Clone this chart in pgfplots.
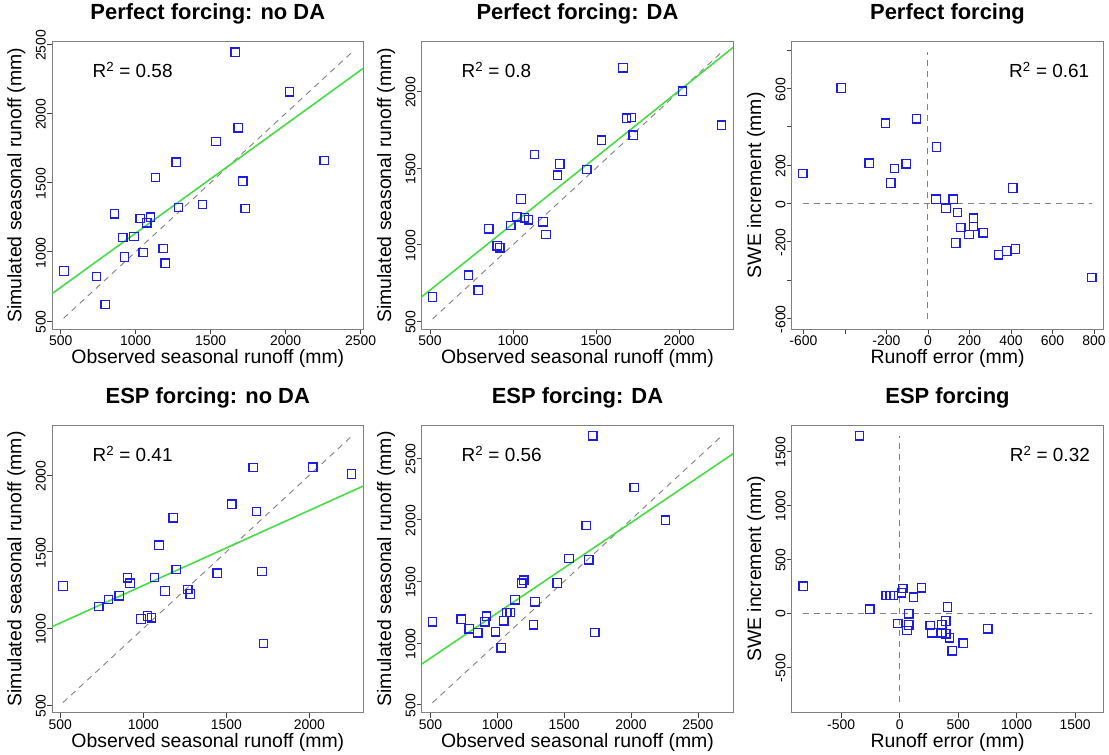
\documentclass[border=0pt]{standalone}
\usepackage{fontspec}
\setmainfont{Liberation Sans}
\usepackage{pgfplots}
\pgfplotsset{compat=1.18}
\definecolor{ptblue}{RGB}{30,30,225}
\definecolor{rgreen}{RGB}{70,220,70}
\tikzset{rtwo/.style={font=\fontsize{19}{19}\selectfont}}
\pgfplotsset{
  panel/.style={
    scale only axis, width=311.6bp, height=287.5bp,
    axis line style={draw=gray, line width=0.8bp},
    tick align=outside, tick pos=left,
    major tick length=5bp,
    tick style={black!75, line width=0.6bp},
    /pgf/number format/assume math mode=true,
    /pgf/number format/1000 sep={},
    scaled ticks=false,
    ticklabel style={font=\fontsize{14}{14}\selectfont, inner sep=1bp},
    xticklabel style={yshift=-0.5bp},
    yticklabel style={rotate=90, anchor=south, xshift=-1bp},
    xlabel style={font=\fontsize{19.5}{19.5}\selectfont, inner sep=0pt, at={(axis description cs:0.5,0)}, anchor=base, yshift=-35bp},
    ylabel style={font=\fontsize{19.5}{19.5}\selectfont, inner sep=0pt, at={(axis description cs:-0.098,0.5)}, anchor=base},
    title style={font=\bfseries\fontsize{22}{22}\selectfont, at={(axis description cs:0.5,1)}, anchor=base, yshift=16bp},
    enlargelimits=false,
  },
  pts/.style={only marks, mark=square, mark size=4.2bp, draw=ptblue, color=ptblue, mark options={draw=ptblue, fill=none, line width=1.25bp, solid}},
  fit/.style={rgreen, line width=1.6bp},
  oneone/.style={gray, line width=0.9bp, dash pattern=on 6bp off 5bp},
}
\begin{document}
\begin{tikzpicture}
\useasboundingbox (0,0) rectangle (1109bp,755bp);
% ---------- Panel 1 ----------
\begin{axis}[panel, at={(52bp,426bp)}, anchor=south west,
  title={Perfect forcing: no DA},
  xlabel={Observed seasonal runoff (mm)}, ylabel={Simulated seasonal runoff (mm)},
  xmin=442, xmax=2520, ymin=442, ymax=2520,
  xtick={500,1000,1500,2000,2500}, ytick={500,1000,1500,2000,2500}]
\addplot[oneone] coordinates {(519,519) (2443,2443)};
\addplot[fit] coordinates {(442,697) (2520,2328)};
\addplot[pts] coordinates {(522,861) (739,822) (797,618) (858,1274) (914,1104) (925,962) (989,1111) (1031,1241) (1051,995) (1075,1210) (1100,1250) (1133,1537) (1184,1024) (1197,918) (1270,1647) (1286,1320) (1445,1342) (1536,1796) (1664,2443) (1684,1897) (1715,1510) (1730,1313) (2025,2157) (2257,1659)};
\node[rtwo, anchor=west] at (rel axis cs:0.119,0.90) {R\textsuperscript{2} = 0.58};
\end{axis}
% ---------- Panel 2 ----------
\begin{axis}[panel, at={(421.7bp,426bp)}, anchor=south west,
  title={Perfect forcing: DA},
  xlabel={Observed seasonal runoff (mm)}, ylabel={Simulated seasonal runoff (mm)},
  xmin=450, xmax=2326, ymin=450, ymax=2326,
  xtick={500,1000,1500,2000}, ytick={500,1000,1500,2000}]
\addplot[oneone] coordinates {(516,516) (2254,2254)};
\addplot[fit] coordinates {(450,660) (2326,2288)};
\addplot[pts] coordinates {(516,659) (732,801) (790,703) (854,1104) (904,993) (920,980) (986,1126) (1024,1182) (1048,1298) (1068,1176) (1094,1163) (1130,1588) (1180,1150) (1198,1067) (1268,1453) (1282,1527) (1444,1490) (1532,1682) (1662,2155) (1682,1825) (1714,1830) (1724,1714) (2020,2002) (2254,1780)};
\node[rtwo, anchor=west] at (rel axis cs:0.117,0.90) {R\textsuperscript{2} = 0.8};
\end{axis}
% ---------- Panel 3 ----------
\begin{axis}[panel, at={(791.7bp,426bp)}, anchor=south west,
  title={Perfect forcing},
  xlabel={Runoff error (mm)}, ylabel={SWE increment (mm)},
  xmin=-656, xmax=845, ymin=-656, ymax=845,
  xtick={-600,-400,-200,0,200,400,600,800}, xticklabels={-600,{},-200,0,200,400,600,800},
  ytick={-600,-400,-200,0,200,400,600,800}, yticklabels={-600,{},-200,0,200,{},600,{}}]
\addplot[oneone] coordinates {(-603,0) (789,0)};
\addplot[oneone] coordinates {(0,-603) (0,789)};
\addplot[pts] coordinates {(-603,156) (-417,602) (-283,209) (-204,419) (-179,106) (-161,182) (-105,207) (-55,442) (41,294) (39,22) (87,-25) (122,22) (134,-207) (143,-47) (158,-127) (198,-163) (219,-77) (219,-120) (267,-154) (340,-269) (380,-249) (409,80) (422,-238) (789,-388)};
\node[rtwo, anchor=east] at (rel axis cs:0.966,0.90) {R\textsuperscript{2} = 0.61};
\end{axis}
% ---------- Panel 4 ----------
\begin{axis}[panel, at={(52bp,42.3bp)}, anchor=south west,
  title={ESP forcing: no DA},
  xlabel={Observed seasonal runoff (mm)}, ylabel={Simulated seasonal runoff (mm)},
  xmin=450, xmax=2326, ymin=450, ymax=2326,
  xtick={500,1000,1500,2000}, ytick={500,1000,1500,2000}]
\addplot[oneone] coordinates {(516,516) (2254,2254)};
\addplot[fit] coordinates {(450,1011) (2326,1930)};
\addplot[pts] coordinates {(516,1277) (732,1144) (790,1188) (854,1212) (904,1330) (920,1295) (986,1061) (1024,1081) (1048,1070) (1068,1332) (1094,1543) (1130,1244) (1180,1722) (1198,1384) (1268,1253) (1282,1225) (1444,1360) (1532,1810) (1662,2050) (1682,1764) (1714,1371) (1724,902) (2020,2052) (2254,2008)};
\node[rtwo, anchor=west] at (rel axis cs:0.119,0.90) {R\textsuperscript{2} = 0.41};
\end{axis}
% ---------- Panel 5 ----------
\begin{axis}[panel, at={(421.7bp,42.3bp)}, anchor=south west,
  title={ESP forcing: DA},
  xlabel={Observed seasonal runoff (mm)}, ylabel={Simulated seasonal runoff (mm)},
  xmin=435, xmax=2765, ymin=435, ymax=2765,
  xtick={500,1000,1500,2000,2500}, ytick={500,1000,1500,2000,2500}]
\addplot[oneone] coordinates {(515,515) (2680,2680)};
\addplot[fit] coordinates {(435,829) (2765,2535)};
\addplot[pts] coordinates {(515,1171) (731,1193) (791,1114) (855,1082) (907,1171) (920,1217) (987,1090) (1029,961) (1049,1179) (1071,1247) (1096,1247) (1133,1349) (1183,1484) (1198,1508) (1270,1147) (1282,1333) (1449,1486) (1536,1686) (1665,1953) (1685,1675) (1715,2680) (1730,1085) (2023,2260) (2259,1996)};
\node[rtwo, anchor=west] at (rel axis cs:0.117,0.90) {R\textsuperscript{2} = 0.56};
\end{axis}
% ---------- Panel 6 ----------
\begin{axis}[panel, at={(791.7bp,42.3bp)}, anchor=south west,
  title={ESP forcing},
  xlabel={Runoff error (mm)}, ylabel={SWE increment (mm)},
  xmin=-923, xmax=1741, ymin=-923, ymax=1741,
  xtick={-500,0,500,1000,1500}, ytick={-500,0,500,1000,1500}]
\addplot[oneone] coordinates {(-824,0) (1642,0)};
\addplot[oneone] coordinates {(0,-824) (0,1642)};
\addplot[pts] coordinates {(-824,250) (-344,1642) (-256,37) (-116,164) (-82,164) (-54,164) (26,228) (17,188) (117,148) (188,235) (409,56) (77,-6) (-17,-96) (77,-111) (63,-160) (261,-114) (276,-182) (361,-111) (395,-74) (361,-182) (395,-191) (426,-228) (543,-278) (449,-349) (753,-145)};
\node[rtwo, anchor=east] at (rel axis cs:0.968,0.90) {R\textsuperscript{2} = 0.32};
\end{axis}
\end{tikzpicture}
\end{document}
